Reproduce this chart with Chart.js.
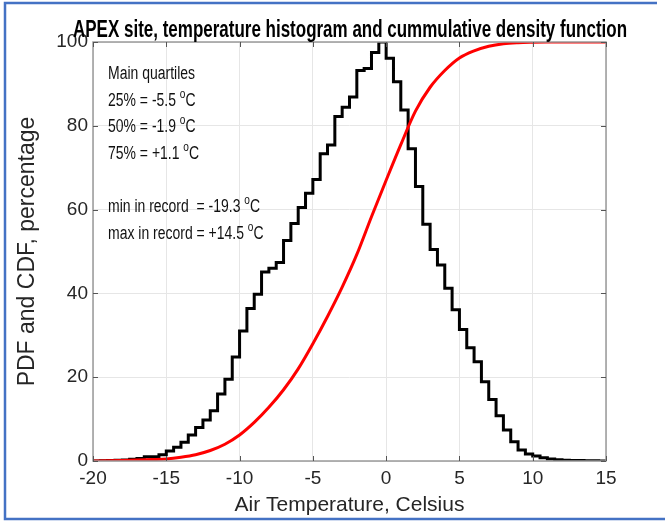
<!DOCTYPE html>
<html><head><meta charset="utf-8">
<script src="https://cdn.jsdelivr.net/npm/chart.js@4.4.1/dist/chart.umd.min.js"></script>
<style>html,body{margin:0;padding:0;background:#fff}#wrap{width:665px;height:522px;position:relative}</style>
</head><body><div id="wrap"><canvas id="c" width="665" height="522"></canvas></div>
<script>
const titleText = 'APEX site, temperature histogram and cummulative density function';
const xAxisTitle = 'Air Temperature, Celsius';
const yAxisTitle = 'PDF and CDF, percentage';

// histogram bins (left edge, 0.5 degC wide) and relative frequency (%)
const binEdges = [-20,-19.5,-19,-18.5,-18,-17.5,-17,-16.5,-16,-15.5,-15,-14.5,-14,-13.5,-13,-12.5,-12,-11.5,-11,-10.5,-10,-9.5,-9,-8.5,-8,-7.5,-7,-6.5,-6,-5.5,-5,-4.5,-4,-3.5,-3,-2.5,-2,-1.5,-1,-0.5,0,0.5,1,1.5,2,2.5,3,3.5,4,4.5,5,5.5,6,6.5,7,7.5,8,8.5,9,9.5,10,10.5,11,11.5,12,12.5,13,13.5,14,14.5,15];
const histValues = [0,0.05,0.1,0.15,0.25,0.4,0.6,1.0,1.0,1.5,2.4,3.3,4.5,6.2,8.0,9.8,12.0,16.0,19.5,24.8,31.0,36.4,39.8,45.1,46.0,47.4,52.6,56.7,60.5,63.9,67.2,73.3,75.4,82.2,84.4,86.9,93.2,93.7,97.5,100,96.1,90.5,83.8,74.5,65.5,56.5,50.5,46.8,41.2,36.1,31.4,27.0,23.7,18.9,14.7,10.8,7.4,4.6,2.6,1.7,1.2,0.8,0.5,0.3,0.2,0.1,0.1,0.05,0.05,0.02,0.02];

// cumulative density function (%)
const cdfTemps  = [-20,-19,-18,-17,-16,-15,-14,-13,-12,-11,-10,-9,-8,-7,-6,-5,-4,-3,-2,-1,0,1,2,3,4,5,6,7,8,9,10,11,12,13,14,15];
const cdfValues = [0,0.05,0.12,0.22,0.35,0.5,0.9,1.5,2.5,4.0,6.2,9.2,12.8,17.0,22.0,28.0,34.5,41.5,49.3,58.3,67.0,75.5,83.5,89.2,93.2,96.2,97.9,99.0,99.6,99.85,99.95,100,100,100,100,100];

const xTickValues = [-20,-15,-10,-5,0,5,10,15];
const yTickValues = [0,20,40,60,80,100];

const noteLines = ['Main quartiles','25% = -5.5 ','50% = -1.9 ','75% = +1.1 ','','min in record  = -19.3 ','max in record = +14.5 '];
const noteUnit  = [false,true,true,true,false,true,true];

const NARROW = "'Liberation Sans Narrow','Arial Narrow','Liberation Sans',sans-serif";
const REG = "'Liberation Sans',Arial,sans-serif";

const decor = {
  id: 'decor',
  afterDraw(chart) {
    const ctx = chart.ctx, a = chart.chartArea;
    const xs = chart.scales.x, ys = chart.scales.y;
    ctx.save();
    // axes box
    ctx.strokeStyle = '#9a9a9a';
    ctx.lineWidth = 1.5;
    ctx.strokeRect(a.left, a.top, a.right - a.left, a.bottom - a.top);
    // inward tick marks
    ctx.strokeStyle = '#555';
    ctx.lineWidth = 1;
    ctx.beginPath();
    xTickValues.forEach(v => {
      const px = Math.round(xs.getPixelForValue(v)) + 0.5;
      ctx.moveTo(px, a.bottom); ctx.lineTo(px, a.bottom - 5);
      ctx.moveTo(px, a.top); ctx.lineTo(px, a.top + 5);
    });
    yTickValues.forEach(v => {
      const py = Math.round(ys.getPixelForValue(v)) + 0.5;
      ctx.moveTo(a.left, py); ctx.lineTo(a.left + 5, py);
      ctx.moveTo(a.right, py); ctx.lineTo(a.right - 5, py);
    });
    ctx.stroke();

    // title (fit to width)
    ctx.fillStyle = '#000';
    ctx.font = 'bold 23px ' + REG;
    ctx.textBaseline = 'alphabetic';
    ctx.textAlign = 'left';
    const tw = ctx.measureText(titleText).width;
    const targetW = 554;
    ctx.save();
    ctx.translate(73, 37);
    ctx.scale(targetW / tw, 1);
    ctx.fillText(titleText, 0, 0);
    ctx.restore();

    // notes
    ctx.font = '18px ' + REG;
    const sx = 87 / ctx.measureText('Main quartiles').width;
    const y0 = 72.7, dy = 26.6;
    noteLines.forEach((t, i) => {
      if (!t) return;
      const y = y0 + i * dy + 6.5;
      ctx.save();
      ctx.translate(108, y);
      ctx.scale(sx, 1);
      ctx.font = '18px ' + REG;
      ctx.fillStyle = '#111';
      ctx.fillText(t, 0, 0);
      if (noteUnit[i]) {
        let w = ctx.measureText(t).width;
        ctx.font = '13px ' + REG;
        ctx.fillText('o', w, -8);
        w += ctx.measureText('o').width;
        ctx.font = '18px ' + REG;
        ctx.fillText('C', w, 0);
      }
      ctx.restore();
    });

    // outer blue frame
    ctx.strokeStyle = '#4472c4';
    ctx.lineWidth = 2.5;
    ctx.beginPath();
    ctx.moveTo(657, 3); ctx.lineTo(5, 3); ctx.lineTo(5, 519); ctx.lineTo(665, 519);
    ctx.stroke();
    ctx.restore();
  }
};

new Chart(document.getElementById('c'), {
  type: 'line',
  data: {
    datasets: [
      {
        label: 'CDF',
        data: cdfTemps.map((t, i) => ({x: t, y: cdfValues[i]})),
        borderColor: '#ff0000',
        borderWidth: 3,
        pointRadius: 0,
        cubicInterpolationMode: 'monotone',
        fill: false,
        order: 0
      },
      {
        label: 'PDF',
        data: binEdges.map((t, i) => ({x: t, y: histValues[i]})),
        borderColor: '#000000',
        borderWidth: 3,
        pointRadius: 0,
        stepped: 'before',
        fill: false,
        order: 1
      }
    ]
  },
  options: {
    responsive: false,
    animation: false,
    devicePixelRatio: 1,
    layout: {padding: {left: 0, top: 42, right: 59, bottom: 0}},
    plugins: {legend: {display: false}, tooltip: {enabled: false}, title: {display: false}},
    scales: {
      x: {
        type: 'linear', min: -20, max: 15,
        afterBuildTicks: s => { s.ticks = xTickValues.map(v => ({value: v})); },
        afterFit: s => { s.height = 61; },
        grid: {color: '#e6e6e6', lineWidth: 1, drawTicks: false},
        border: {display: false},
        ticks: {color: '#262626', font: {family: NARROW, size: 19}, padding: 6, maxRotation: 0, autoSkip: false},
        title: {display: true, text: xAxisTitle, color: '#262626', font: {family: NARROW, size: 21}, padding: {top: 0, bottom: 4}}
      },
      y: {
        type: 'linear', min: 0, max: 100,
        afterBuildTicks: s => { s.ticks = yTickValues.map(v => ({value: v})); },
        afterFit: s => { s.width = 93; },
        grid: {color: '#e6e6e6', lineWidth: 1, drawTicks: false},
        border: {display: false},
        ticks: {color: '#262626', font: {family: NARROW, size: 19}, padding: 5, autoSkip: false},
        title: {display: true, text: yAxisTitle, color: '#262626', font: {family: REG, size: 23}, padding: {top: 14, bottom: 0}}
      }
    }
  },
  plugins: [decor]
});
</script>
</body></html>
